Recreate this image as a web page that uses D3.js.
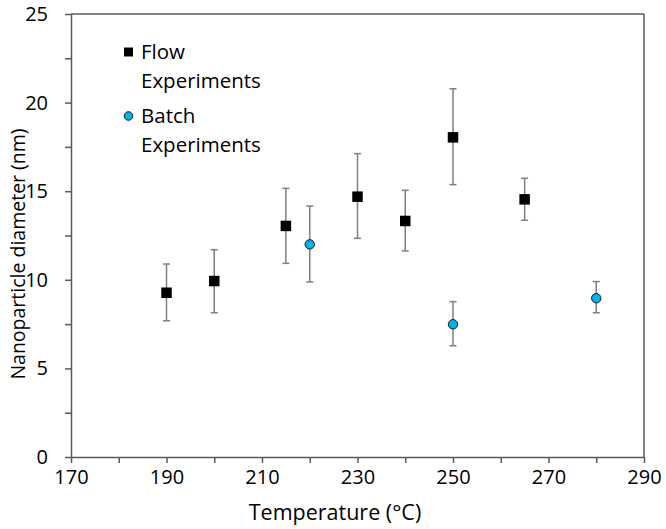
<!DOCTYPE html>
<html>
<head>
<meta charset="utf-8">
<script src="https://cdn.jsdelivr.net/npm/d3@7"></script>
<style>
  body { margin: 0; background: #fff; }
  text { font-family: "Open Sans", "Noto Sans", sans-serif; fill: #000; }
</style>
</head>
<body>
<svg id="chart" width="666" height="529"></svg>
<script>
// Data
const flowTemps = [190, 200, 215, 230, 240, 250, 265];
const flowValues = [9.27, 9.93, 13.04, 14.69, 13.32, 18.04, 14.54];
const flowUpper = [10.89, 11.7, 15.16, 17.12, 15.05, 20.78, 15.73];
const flowLower = [7.69, 8.14, 10.93, 12.34, 11.63, 15.37, 13.36];

const batchTemps = [220, 250, 280];
const batchValues = [12.0, 7.49, 8.96];
const batchUpper = [14.16, 8.77, 9.9];
const batchLower = [9.88, 6.28, 8.14];

const xTickLabels = [170, 190, 210, 230, 250, 270, 290];
const yTickLabels = [0, 5, 10, 15, 20, 25];
const legendLabels = [["Flow", "Experiments"], ["Batch", "Experiments"]];

const svg = d3.select("#chart");
const mLeft = 71, mRight = 644, mTop = 14, mBottom = 457;
const x = d3.scaleLinear().domain([170, 290]).range([mLeft, mRight]);
const y = d3.scaleLinear().domain([0, 25]).range([mBottom, mTop]);
const axisColor = "#595959";
const tickFs = 20;

// box top/right
svg.append("line").attr("x1", mLeft).attr("x2", mRight).attr("y1", mTop).attr("y2", mTop)
  .attr("stroke", axisColor).attr("stroke-width", 1.5);
svg.append("line").attr("x1", mRight).attr("x2", mRight).attr("y1", mTop).attr("y2", mBottom)
  .attr("stroke", axisColor).attr("stroke-width", 1.5);

// x axis
const xAxis = d3.axisBottom(x).tickValues(d3.range(170, 291, 10))
  .tickSize(6).tickSizeOuter(0).tickFormat(d => xTickLabels.includes(d) ? d : "");
const gx = svg.append("g").attr("transform", `translate(0,${mBottom})`).call(xAxis);
gx.select(".domain").attr("stroke", axisColor).attr("stroke-width", 1.5);
gx.selectAll(".tick line").attr("stroke", axisColor).attr("stroke-width", 1.5);
gx.selectAll(".tick text").attr("font-size", tickFs).attr("dy", "1em").attr("y", 7)
  .style("font-family", '"Open Sans", sans-serif').attr("fill", "#000");

// y axis
const yAxis = d3.axisLeft(y).tickValues(d3.range(0, 25.01, 2.5))
  .tickSize(6).tickSizeOuter(0).tickFormat(d => yTickLabels.includes(d) ? d : "");
const gy = svg.append("g").attr("transform", `translate(${mLeft},0)`).call(yAxis);
gy.select(".domain").attr("stroke", axisColor).attr("stroke-width", 1.5);
gy.selectAll(".tick line").attr("stroke", axisColor).attr("stroke-width", 1.5);
gy.selectAll(".tick text").attr("font-size", tickFs).attr("x", -23)
  .style("font-family", '"Open Sans", sans-serif').attr("fill", "#000");

// axis titles
svg.append("text").attr("x", 335).attr("y", 520).attr("text-anchor", "middle")
  .attr("font-size", 21.5).text("Temperature (°C)");
svg.append("text").attr("transform", `translate(25,254) rotate(-90)`)
  .attr("text-anchor", "middle").attr("font-size", 19.5).text("Nanoparticle diameter (nm)");

// error bars
function errorBars(temps, up, lo) {
  const g = svg.append("g").attr("stroke", "#7f7f7f").attr("stroke-width", 1.5);
  temps.forEach((t, i) => {
    const cx = x(t);
    g.append("line").attr("x1", cx).attr("x2", cx).attr("y1", y(up[i])).attr("y2", y(lo[i]));
    g.append("line").attr("x1", cx - 3.5).attr("x2", cx + 3.5).attr("y1", y(up[i])).attr("y2", y(up[i]));
    g.append("line").attr("x1", cx - 3.5).attr("x2", cx + 3.5).attr("y1", y(lo[i])).attr("y2", y(lo[i]));
  });
}
errorBars(flowTemps, flowUpper, flowLower);
errorBars(batchTemps, batchUpper, batchLower);

const sq = 10.5;
svg.append("g").selectAll("rect").data(flowTemps).join("rect")
  .attr("x", d => x(d) - sq / 2).attr("y", (d, i) => y(flowValues[i]) - sq / 2)
  .attr("width", sq).attr("height", sq).attr("fill", "#000");

svg.append("g").selectAll("circle").data(batchTemps).join("circle")
  .attr("cx", d => x(d)).attr("cy", (d, i) => y(batchValues[i])).attr("r", 4.7)
  .attr("fill", "#00b0f0").attr("stroke", "#1a1a1a").attr("stroke-width", 1);

// legend
const lg = svg.append("g");
lg.append("rect").attr("x", 124).attr("y", 47.5).attr("width", 9).attr("height", 9).attr("fill", "#000");
lg.append("circle").attr("cx", 128.5).attr("cy", 116).attr("r", 4.3)
  .attr("fill", "#00b0f0").attr("stroke", "#1a1a1a").attr("stroke-width", 1);
const baselines = [[59, 88], [123, 152]];
legendLabels.forEach((lines, i) => {
  lines.forEach((t, j) => {
    lg.append("text").attr("x", 141).attr("y", baselines[i][j]).attr("font-size", 20.5).text(t);
  });
});
</script>
</body>
</html>
